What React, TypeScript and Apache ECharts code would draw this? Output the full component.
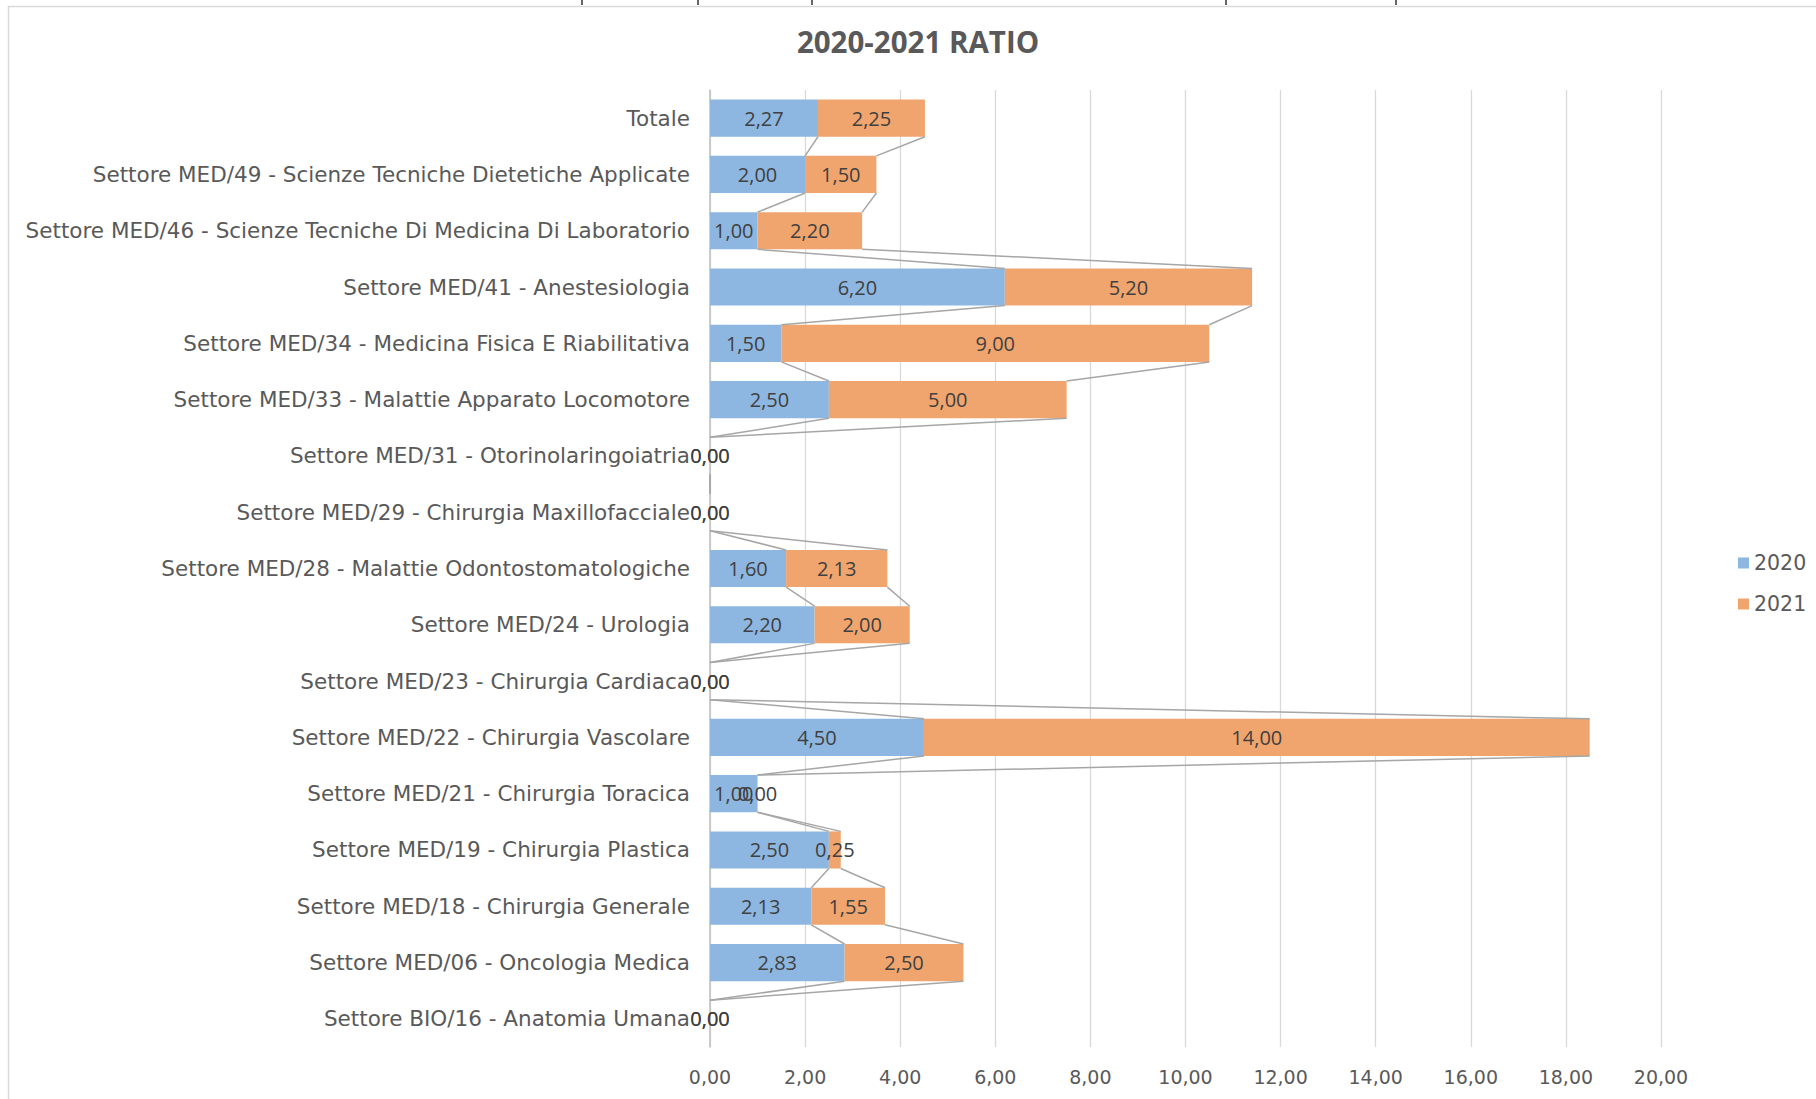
import React, { useEffect, useRef } from "react";
import * as echarts from "echarts";

const categories = [
  "Settore BIO/16 - Anatomia Umana",
  "Settore MED/06 - Oncologia Medica",
  "Settore MED/18 - Chirurgia Generale",
  "Settore MED/19 - Chirurgia Plastica",
  "Settore MED/21 - Chirurgia Toracica",
  "Settore MED/22 - Chirurgia Vascolare",
  "Settore MED/23 - Chirurgia Cardiaca",
  "Settore MED/24 - Urologia",
  "Settore MED/28 - Malattie Odontostomatologiche",
  "Settore MED/29 - Chirurgia Maxillofacciale",
  "Settore MED/31 - Otorinolaringoiatria",
  "Settore MED/33 - Malattie Apparato Locomotore",
  "Settore MED/34 - Medicina Fisica E Riabilitativa",
  "Settore MED/41 - Anestesiologia",
  "Settore MED/46 - Scienze Tecniche Di Medicina Di Laboratorio",
  "Settore MED/49 - Scienze Tecniche Dietetiche Applicate",
  "Totale",
];
const ratio2020 = [0, 2.83, 2.13, 2.5, 1.0, 4.5, 0, 2.2, 1.6, 0, 0, 2.5, 1.5, 6.2, 1.0, 2.0, 2.27];
const ratio2021 = [0, 2.5, 1.55, 0.25, 0, 14.0, 0, 2.0, 2.13, 0, 0, 5.0, 9.0, 5.2, 2.2, 1.5, 2.25];
const seriesNames = ["2020", "2021"];
const xTicks = { min: 0, max: 20, interval: 2 };
const titleText = "2020-2021 RATIO";

const FONT = "'Open Sans', 'Noto Sans', sans-serif";
const WIDE = "'DejaVu Sans', 'Open Sans', sans-serif";
const BAR_RATIO = 0.66;

const fmt = (v: number) => Number(v).toFixed(2).replace(".", ",");

export default function App() {
  const ref = useRef<HTMLDivElement>(null);

  useEffect(() => {
    if (!ref.current) return;
    const chart = echarts.init(ref.current, undefined, { renderer: "svg" });

    const cum = ratio2020.map((v, i) => v + ratio2021[i]);
    const lineData: number[][] = [];
    for (let i = 0; i < categories.length - 1; i++) {
      lineData.push([i, ratio2020[i], cum[i], ratio2020[i + 1], cum[i + 1]]);
    }

    const labelCfg = {
      show: true,
      position: "inside",
      formatter: (p: any) => fmt(p.value),
      color: "#404040",
      fontSize: 20,
      fontFamily: FONT,
    };

    const tickXs = [582, 698, 812, 1226, 1396];

    chart.setOption({
      animation: false,
      backgroundColor: "#ffffff",
      title: {
        text: titleText,
        left: 913,
        top: 21,
        textAlign: "center",
        textStyle: {
          fontFamily: FONT,
          fontSize: 29.5,
          fontWeight: "bold",
          color: "#595959",
        },
      },
      legend: {
        data: seriesNames,
        orient: "vertical",
        left: 1733,
        top: 547,
        itemWidth: 11,
        itemHeight: 11,
        itemGap: 19,
        icon: "rect",
        textStyle: {
          fontFamily: WIDE,
          fontSize: 20.5,
          lineHeight: 22,
          color: "#595959",
        },
      },
      graphic: [
        {
          type: "rect",
          silent: true,
          shape: { x: 8.5, y: 6.5, width: 2000, height: 2000 },
          style: { fill: "none", stroke: "#d9d9d9", lineWidth: 1.5 },
        },
        ...tickXs.map((x) => ({
          type: "line",
          silent: true,
          shape: { x1: x, y1: 0, x2: x, y2: 5 },
          style: { stroke: "#333333", lineWidth: 1.5 },
        })),
      ],
      grid: { left: 710, right: 155, top: 90, bottom: 52, containLabel: false },
      xAxis: {
        type: "value",
        min: xTicks.min,
        max: xTicks.max,
        interval: xTicks.interval,
        axisLine: { show: false },
        axisTick: { show: false },
        splitLine: { show: true, lineStyle: { color: "#d9d9d9", width: 1.3 } },
        axisLabel: {
          formatter: (v: number) => fmt(v),
          color: "#595959",
          fontSize: 19,
          fontFamily: WIDE,
          margin: 20,
        },
      },
      yAxis: {
        type: "category",
        data: categories,
        axisLine: { show: true, lineStyle: { color: "#bfbfbf", width: 1.5 } },
        axisTick: { show: false },
        splitLine: { show: false },
        axisLabel: {
          color: "#595959",
          fontSize: 21.5,
          fontFamily: WIDE,
          margin: 20,
        },
      },
      series: [
        {
          name: seriesNames[0],
          type: "bar",
          stack: "ratio",
          data: ratio2020,
          barWidth: BAR_RATIO * 100 + "%",
          itemStyle: { color: "#8db7e1" },
          label: labelCfg,
          z: 2,
        },
        {
          name: seriesNames[1],
          type: "bar",
          stack: "ratio",
          data: ratio2021,
          barWidth: BAR_RATIO * 100 + "%",
          itemStyle: { color: "#f0a56e" },
          label: labelCfg,
          z: 2,
        },
        {
          name: "serie-linee",
          type: "custom",
          silent: true,
          z: 3,
          encode: { x: [1, 2, 3, 4], y: 0 },
          data: lineData,
          renderItem: (params: any, api: any) => {
            const i = api.value(0);
            const half = (api.size([0, 1])[1] * BAR_RATIO) / 2;
            const a0 = api.coord([api.value(1), i]);
            const c0 = api.coord([api.value(2), i]);
            const a1 = api.coord([api.value(3), i + 1]);
            const c1 = api.coord([api.value(4), i + 1]);
            const style = { stroke: "#a6a6a6", lineWidth: 1.5 };
            return {
              type: "group",
              children: [
                {
                  type: "line",
                  shape: { x1: a0[0], y1: a0[1] - half, x2: a1[0], y2: a1[1] + half },
                  style,
                },
                {
                  type: "line",
                  shape: { x1: c0[0], y1: c0[1] - half, x2: c1[0], y2: c1[1] + half },
                  style,
                },
              ],
            };
          },
        },
      ],
    });

    return () => chart.dispose();
  }, []);

  return (
    <div
      ref={ref}
      style={{ position: "absolute", left: 0, top: 0, width: 1816, height: 1099 }}
    />
  );
}
